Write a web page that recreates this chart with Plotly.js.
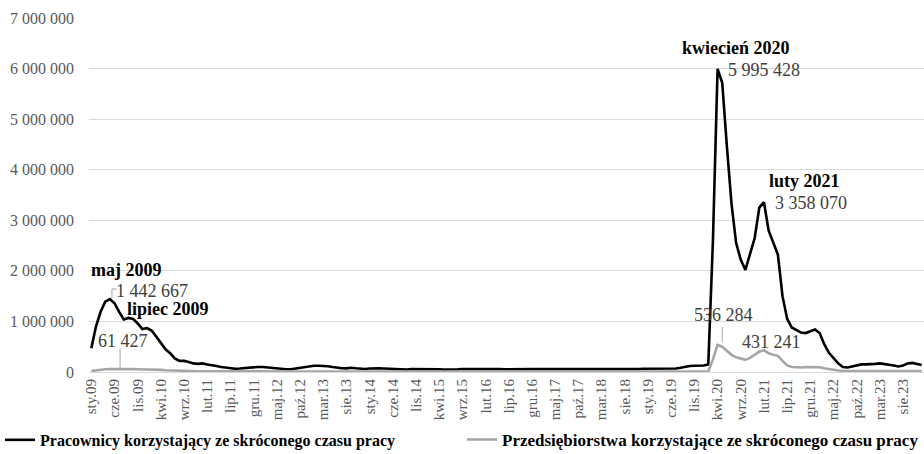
<!DOCTYPE html>
<html>
<head>
<meta charset="utf-8">
<script src="https://cdn.plot.ly/plotly-3.0.1.min.js"></script>
<style>html,body{margin:0;padding:0;background:#fff}#chart{width:924px;height:454px}</style>
</head>
<body>
<div id="chart"></div>
<script>
// Month names (Polish abbreviations) and years
const monthNames = ['sty','lut','mar','kwi','maj','cze','lip','sie','wrz','paź','lis','gru'];
const years = ['09','10','11','12','13','14','15','16','17','18','19','20','21','22','23'];

// Pracownicy korzystający ze skróconego czasu pracy (monthly, 2009-01 .. 2023-12)
const workers = [
  470000, 900000, 1190000, 1390000, 1442667, 1360000, 1190000, 1040000, 1070000, 1050000, 960000, 850000,
  870000, 820000, 700000, 570000, 450000, 370000, 270000, 220000, 220000, 200000, 170000, 160000,
  170000, 150000, 140000, 120000, 100000, 90000, 75000, 65000, 70000, 80000, 85000, 95000,
  100000, 100000, 90000, 80000, 75000, 65000, 55000, 55000, 70000, 85000, 100000, 120000,
  125000, 125000, 125000, 115000, 100000, 80000, 75000, 72000, 85000, 75000, 68000, 60000,
  68000, 75000, 72000, 70000, 65000, 60000, 52000, 46000, 50000, 58000, 60000, 59000,
  60000, 60000, 58000, 55000, 50000, 48000, 46000, 55000, 60000, 60000, 59000, 60000,
  58000, 60000, 70000, 65000, 60000, 55000, 53000, 55000, 58000, 60000, 60000, 58000,
  60000, 60000, 58000, 55000, 53000, 52000, 50000, 47000, 46000, 48000, 50000, 52000,
  53000, 53000, 53000, 53000, 50000, 48000, 46000, 46000, 50000, 58000, 60000, 65000,
  66000, 66000, 60000, 55000, 58000, 60000, 70000, 85000, 105000, 120000, 125000, 120000,
  130000, 150000, 2600000, 5995428, 5720000, 4470000, 3330000, 2550000, 2220000, 2020000, 2350000, 2650000,
  3250000, 3358070, 2800000, 2550000, 2320000, 1500000, 1050000, 880000, 830000, 780000, 770000, 800000,
  840000, 770000, 550000, 380000, 280000, 170000, 100000, 90000, 110000, 130000, 150000, 150000,
  150000, 160000, 170000, 160000, 150000, 130000, 110000, 130000, 170000, 180000, 160000, 140000
];

// Przedsiębiorstwa korzystające ze skróconego czasu pracy
const firms = [
  20000, 35000, 45000, 55000, 58000, 60000, 61427, 60000, 58000, 57000, 55000, 55000,
  55000, 52000, 48000, 42000, 36000, 31000, 26000, 23000, 21000, 19000, 17000, 16000,
  15000, 14000, 13000, 12000, 11000, 10000, 9000, 9000, 9000, 10000, 10000, 11000,
  11000, 11000, 10000, 10000, 9000, 9000, 8000, 8000, 9000, 10000, 11000, 12000,
  13000, 13000, 12000, 11000, 10000, 9000, 9000, 9000, 9000, 9000, 8000, 8000,
  9000, 9000, 9000, 8000, 8000, 8000, 7000, 7000, 7000, 8000, 8000, 8000,
  8000, 8000, 8000, 7000, 7000, 7000, 7000, 7000, 8000, 8000, 8000, 8000,
  8000, 8000, 8000, 8000, 7000, 7000, 7000, 7000, 7000, 8000, 8000, 8000,
  8000, 8000, 7000, 7000, 7000, 7000, 6000, 6000, 6000, 7000, 7000, 7000,
  7000, 7000, 7000, 7000, 6000, 6000, 6000, 6000, 6000, 7000, 7000, 7000,
  7000, 7000, 7000, 7000, 7000, 8000, 8000, 9000, 10000, 11000, 12000, 12000,
  12000, 13000, 250000, 536284, 500000, 410000, 340000, 290000, 260000, 240000, 280000, 340000,
  400000, 431241, 370000, 340000, 320000, 220000, 130000, 100000, 90000, 90000, 100000, 100000,
  100000, 95000, 75000, 55000, 38000, 30000, 25000, 22000, 20000, 20000, 20000, 20000,
  20000, 20000, 20000, 20000, 20000, 20000, 20000, 20000, 20000, 20000, 20000, 20000
];

const seriesNames = ['Pracownicy korzystający ze skróconego czasu pracy', 'Przedsiębiorstwa korzystające ze skróconego czasu pracy'];

// Category labels
const categories = [];
years.forEach(y => monthNames.forEach(m => categories.push(m + '.' + y)));
const idx = categories.map((_, i) => i);
const tickIdx = idx.filter(i => i % 5 === 0);
const tickText = tickIdx.map(i => categories[i]);

const fmt = v => String(Math.round(v)).replace(/\B(?=(\d{3})+(?!\d))/g, ' ');

const FONT = 'Liberation Serif, Times New Roman, serif';

const traces = [
  {x: idx, y: workers, type: 'scatter', mode: 'lines', name: seriesNames[0],
   line: {color: '#000000', width: 2.6}, legend: 'legend'},
  {x: idx, y: firms, type: 'scatter', mode: 'lines', name: seriesNames[1],
   line: {color: '#a6a6a6', width: 2.6}, legend: 'legend2'}
];

const iMaj = 4, iLip = 6, iKwi = 135, iLuty = 145;
const bold = (t, x, y) => ({text: '<b>' + t + '</b>', x: x, y: y, xref: 'x', yref: 'y', xanchor: 'left', yanchor: 'middle', showarrow: false, font: {family: FONT, size: 18, color: '#000'}});
const val = (t, x, y) => ({text: t, x: x, y: y, xref: 'x', yref: 'y', xanchor: 'left', yanchor: 'middle', showarrow: false, font: {family: FONT, size: 18, color: '#404040'}});

const annotations = [
  bold('maj 2009', -0.45, 2020000),
  val(fmt(workers[iMaj]), 4.9, 1600000),
  bold('lipiec 2009', 7.3, 1245000),
  val(fmt(firms[iLip]), 1.1, 613000),
  bold('kwiecień 2020', 126.9, 6400000),
  val(fmt(workers[iKwi]), 136.8, 5970000),
  bold('luty 2021', 145.7, 3775000),
  val(fmt(workers[iLuty]), 147, 3340000),
  val(fmt(firms[iKwi]), 129.5, 1126000),
  val(fmt(firms[iLuty]), 139.9, 593000)
];

const lc = {color: '#a6a6a6', width: 1};
const shapes = [
  {type: 'path', xref: 'x', yref: 'y', path: `M ${iMaj + 0.45},${workers[iMaj] + 20000} L ${iMaj + 0.45},${1640000} L ${iMaj + 1.5},${1640000}`, line: lc},
  {type: 'line', xref: 'x', yref: 'y', x0: iLip + 0.2, x1: iLip + 0.2, y0: firms[iLip] + 10000, y1: 470000, line: lc},
  {type: 'line', xref: 'x', yref: 'y', x0: iKwi + 1, x1: iKwi + 1, y0: firms[iKwi] + 50000, y1: 890000, line: lc}
];

const legendFont = {family: FONT, size: 16, color: '#000', weight: 'bold'};
const layout = {
  width: 924, height: 454,
  margin: {l: 89, r: 0, t: 18, b: 82},
  paper_bgcolor: '#fff', plot_bgcolor: '#fff',
  separators: ', ',
  font: {family: FONT, size: 16, color: '#595959'},
  showlegend: true,
  legend: {orientation: 'h', xref: 'paper', yref: 'container', x: -0.1257, y: 0.031, xanchor: 'left', yanchor: 'middle',
           font: legendFont, bgcolor: 'rgba(0,0,0,0)', itemclick: false},
  legend2: {orientation: 'h', xref: 'paper', yref: 'container', x: 0.4468, y: 0.031, xanchor: 'left', yanchor: 'middle',
           font: {family: FONT, size: 17, color: '#000', weight: 'bold'}, bgcolor: 'rgba(0,0,0,0)', itemclick: false},
  xaxis: {type: 'linear', range: [-0.5, 179.5], tickvals: tickIdx, ticktext: tickText, tickangle: -90,
          showgrid: false, zeroline: false, showline: true, linecolor: '#d9d9d9', linewidth: 1, ticks: '',
          tickfont: {family: FONT, size: 15, color: '#595959'}, fixedrange: true},
  yaxis: {range: [0, 7000000], dtick: 1000000, tickformat: ',d', showgrid: true, gridcolor: '#d9d9d9', gridwidth: 1,
          zeroline: false, showline: false, ticks: '', ticklabelstandoff: 14,
          tickfont: {family: FONT, size: 16, color: '#595959'}, fixedrange: true},
  annotations: annotations,
  shapes: shapes
};

Plotly.newPlot('chart', traces, layout, {displayModeBar: false, staticPlot: true});
</script>
</body>
</html>
